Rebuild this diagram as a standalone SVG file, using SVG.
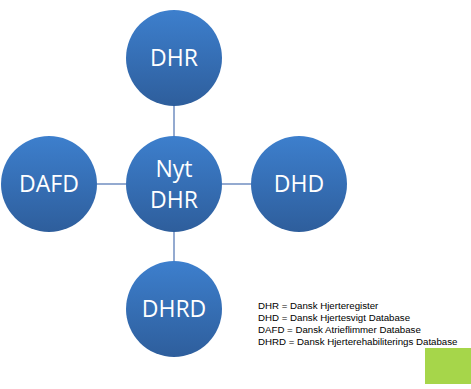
<svg xmlns="http://www.w3.org/2000/svg" width="471" height="389" viewBox="0 0 471 389">
<defs>
<linearGradient id="g" x1="0" y1="0" x2="0" y2="1">
<stop offset="0" stop-color="#3d7fcd"/>
<stop offset="1" stop-color="#2e5e9c"/>
</linearGradient>
<style>
.c{fill:url(#g);}
.t{font-family:"Open Sans","DejaVu Sans",sans-serif;font-size:23px;fill:#ffffff;text-anchor:middle;}
.l{stroke:#94aad0;stroke-width:2;fill:none;}
.k{font-family:"Liberation Sans",Arial,sans-serif;font-size:9.7px;fill:#000;}
</style>
</defs>
<rect width="471" height="389" fill="#ffffff"/>
<g id="connectors">
<line class="l" x1="174" y1="106" x2="174" y2="136"/>
<line class="l" x1="174" y1="232" x2="174" y2="261"/>
<line class="l" x1="97" y1="184" x2="126" y2="184"/>
<line class="l" x1="222" y1="184" x2="251" y2="184"/>
</g>
<g id="dhr"><circle class="c" cx="174" cy="58" r="48"/><text class="t" x="174" y="66">DHR</text></g>
<g id="nyt-dhr"><circle class="c" cx="174" cy="184" r="48"/><text class="t" x="174" y="177">Nyt</text><text class="t" x="174" y="208">DHR</text></g>
<g id="dafd"><circle class="c" cx="49" cy="184" r="48"/><text class="t" x="49" y="192">DAFD</text></g>
<g id="dhd"><circle class="c" cx="299" cy="184" r="48"/><text class="t" x="299" y="192">DHD</text></g>
<g id="dhrd"><circle class="c" cx="174" cy="309" r="48"/><text class="t" x="174" y="317">DHRD</text></g>
<g id="legend">
<text class="k" x="258" y="309">DHR = Dansk Hjerteregister</text>
<text class="k" x="258" y="321">DHD = Dansk Hjertesvigt Database</text>
<text class="k" x="258" y="333">DAFD = Dansk Atrieflimmer Database</text>
<text class="k" x="258" y="345">DHRD = Dansk Hjerterehabiliterings Database</text>
</g>
<rect id="green" x="425" y="348" width="46" height="36" fill="#a6d64a"/>
</svg>
